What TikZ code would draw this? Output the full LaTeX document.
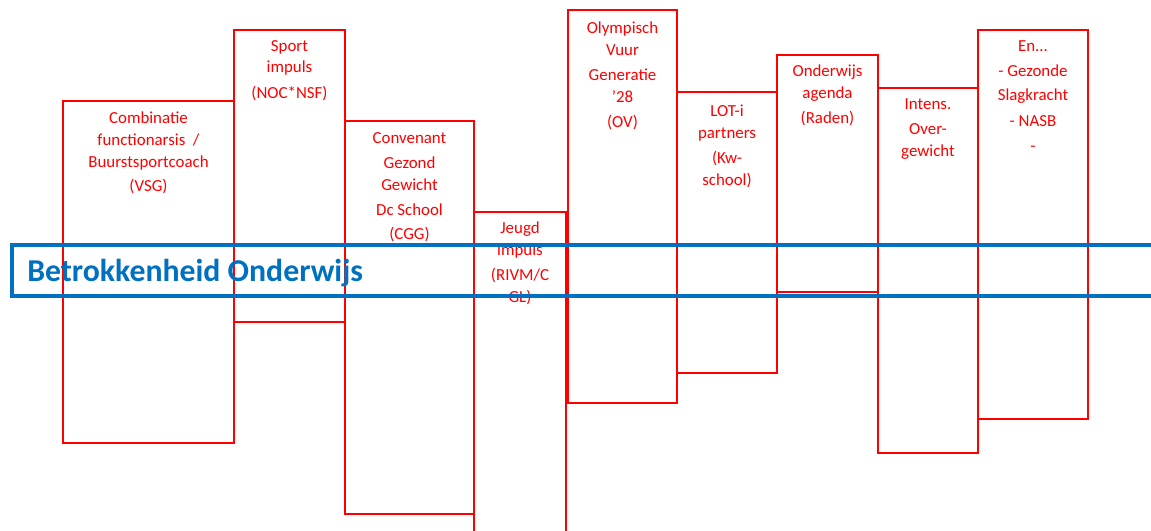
\documentclass[tikz,border=0pt]{standalone}
\usepackage{fontspec}
\setmainfont{Carlito}
\definecolor{rood}{RGB}{255,0,0}
\definecolor{blauw}{RGB}{0,112,192}
\begin{document}
\begin{tikzpicture}[x=0.025cm, y=-0.025cm,
  blok/.style={draw=rood, line width=0.8pt},
  tekst/.style={text=rood, align=center, anchor=north, inner sep=0pt, font=\fontsize{12}{15.3}\selectfont},
  balk/.style={draw=blauw, line width=2.6pt}]
  \useasboundingbox (0,0) rectangle (1151,531);
  % pijlers
  \draw [blok] (63,101) rectangle (234,443);
  \draw [blok] (234,30) rectangle (345,322);
  \draw [blok] (345,121) rectangle (474,514);
  \draw [blok] (474,212) rectangle (566,545);
  \draw [blok] (568,10) rectangle (677,403);
  \draw [blok] (677,92) rectangle (777,373);
  \draw [blok] (777,55) rectangle (878,292);
  \draw [blok] (878,88) rectangle (978,453);
  \draw [blok] (978,30) rectangle (1088,419);
  \node [tekst] (vsg) at (148.5,112) {Combinatie\\functionarsis\ \ /\\Buurstsportcoach\\[2pt](VSG)};
  \node [tekst] (nocnsf) at (289.5,40) {Sport\\impuls\\[2.8pt](NOC*NSF)};
  \node [tekst] (cgg) at (409.5,132) {Convenant\\[2.8pt]Gezond\\Gewicht\\[2.8pt]Dc School\\[1.5pt](CGG)};
  \node [tekst] (rivm) at (520,222) {Jeugd\\impuls\\[2.8pt](RIVM/C\\GL)};
  \node [tekst] (ov) at (622.5,22) {Olympisch\\Vuur\\[2.8pt]Generatie\\’28\\[2.8pt](OV)};
  \node [tekst] (kw) at (727,105) {LOT-i\\partners\\[2.8pt](Kw-\\school)};
  \node [tekst] (raden) at (827.5,65) {Onderwijs\\agenda\\[2.8pt](Raden)};
  \node [tekst] (intens) at (928,98) {Intens.\\[2.8pt]Over-\\gewicht};
  \node [tekst] (nasb) at (1033,40) {En...\\[2.8pt]- Gezonde\\[1.8pt]Slagkracht\\[2.8pt]- NASB\\[2.8pt]-};
  % balk
  \draw [balk] (12,245) rectangle (1170,296);
  \node [anchor=base west, text=blauw, inner sep=0pt, font=\bfseries\fontsize{22.6}{27}\selectfont] (titel) at (27,281) {Betrokkenheid Onderwijs};
\end{tikzpicture}
\end{document}
